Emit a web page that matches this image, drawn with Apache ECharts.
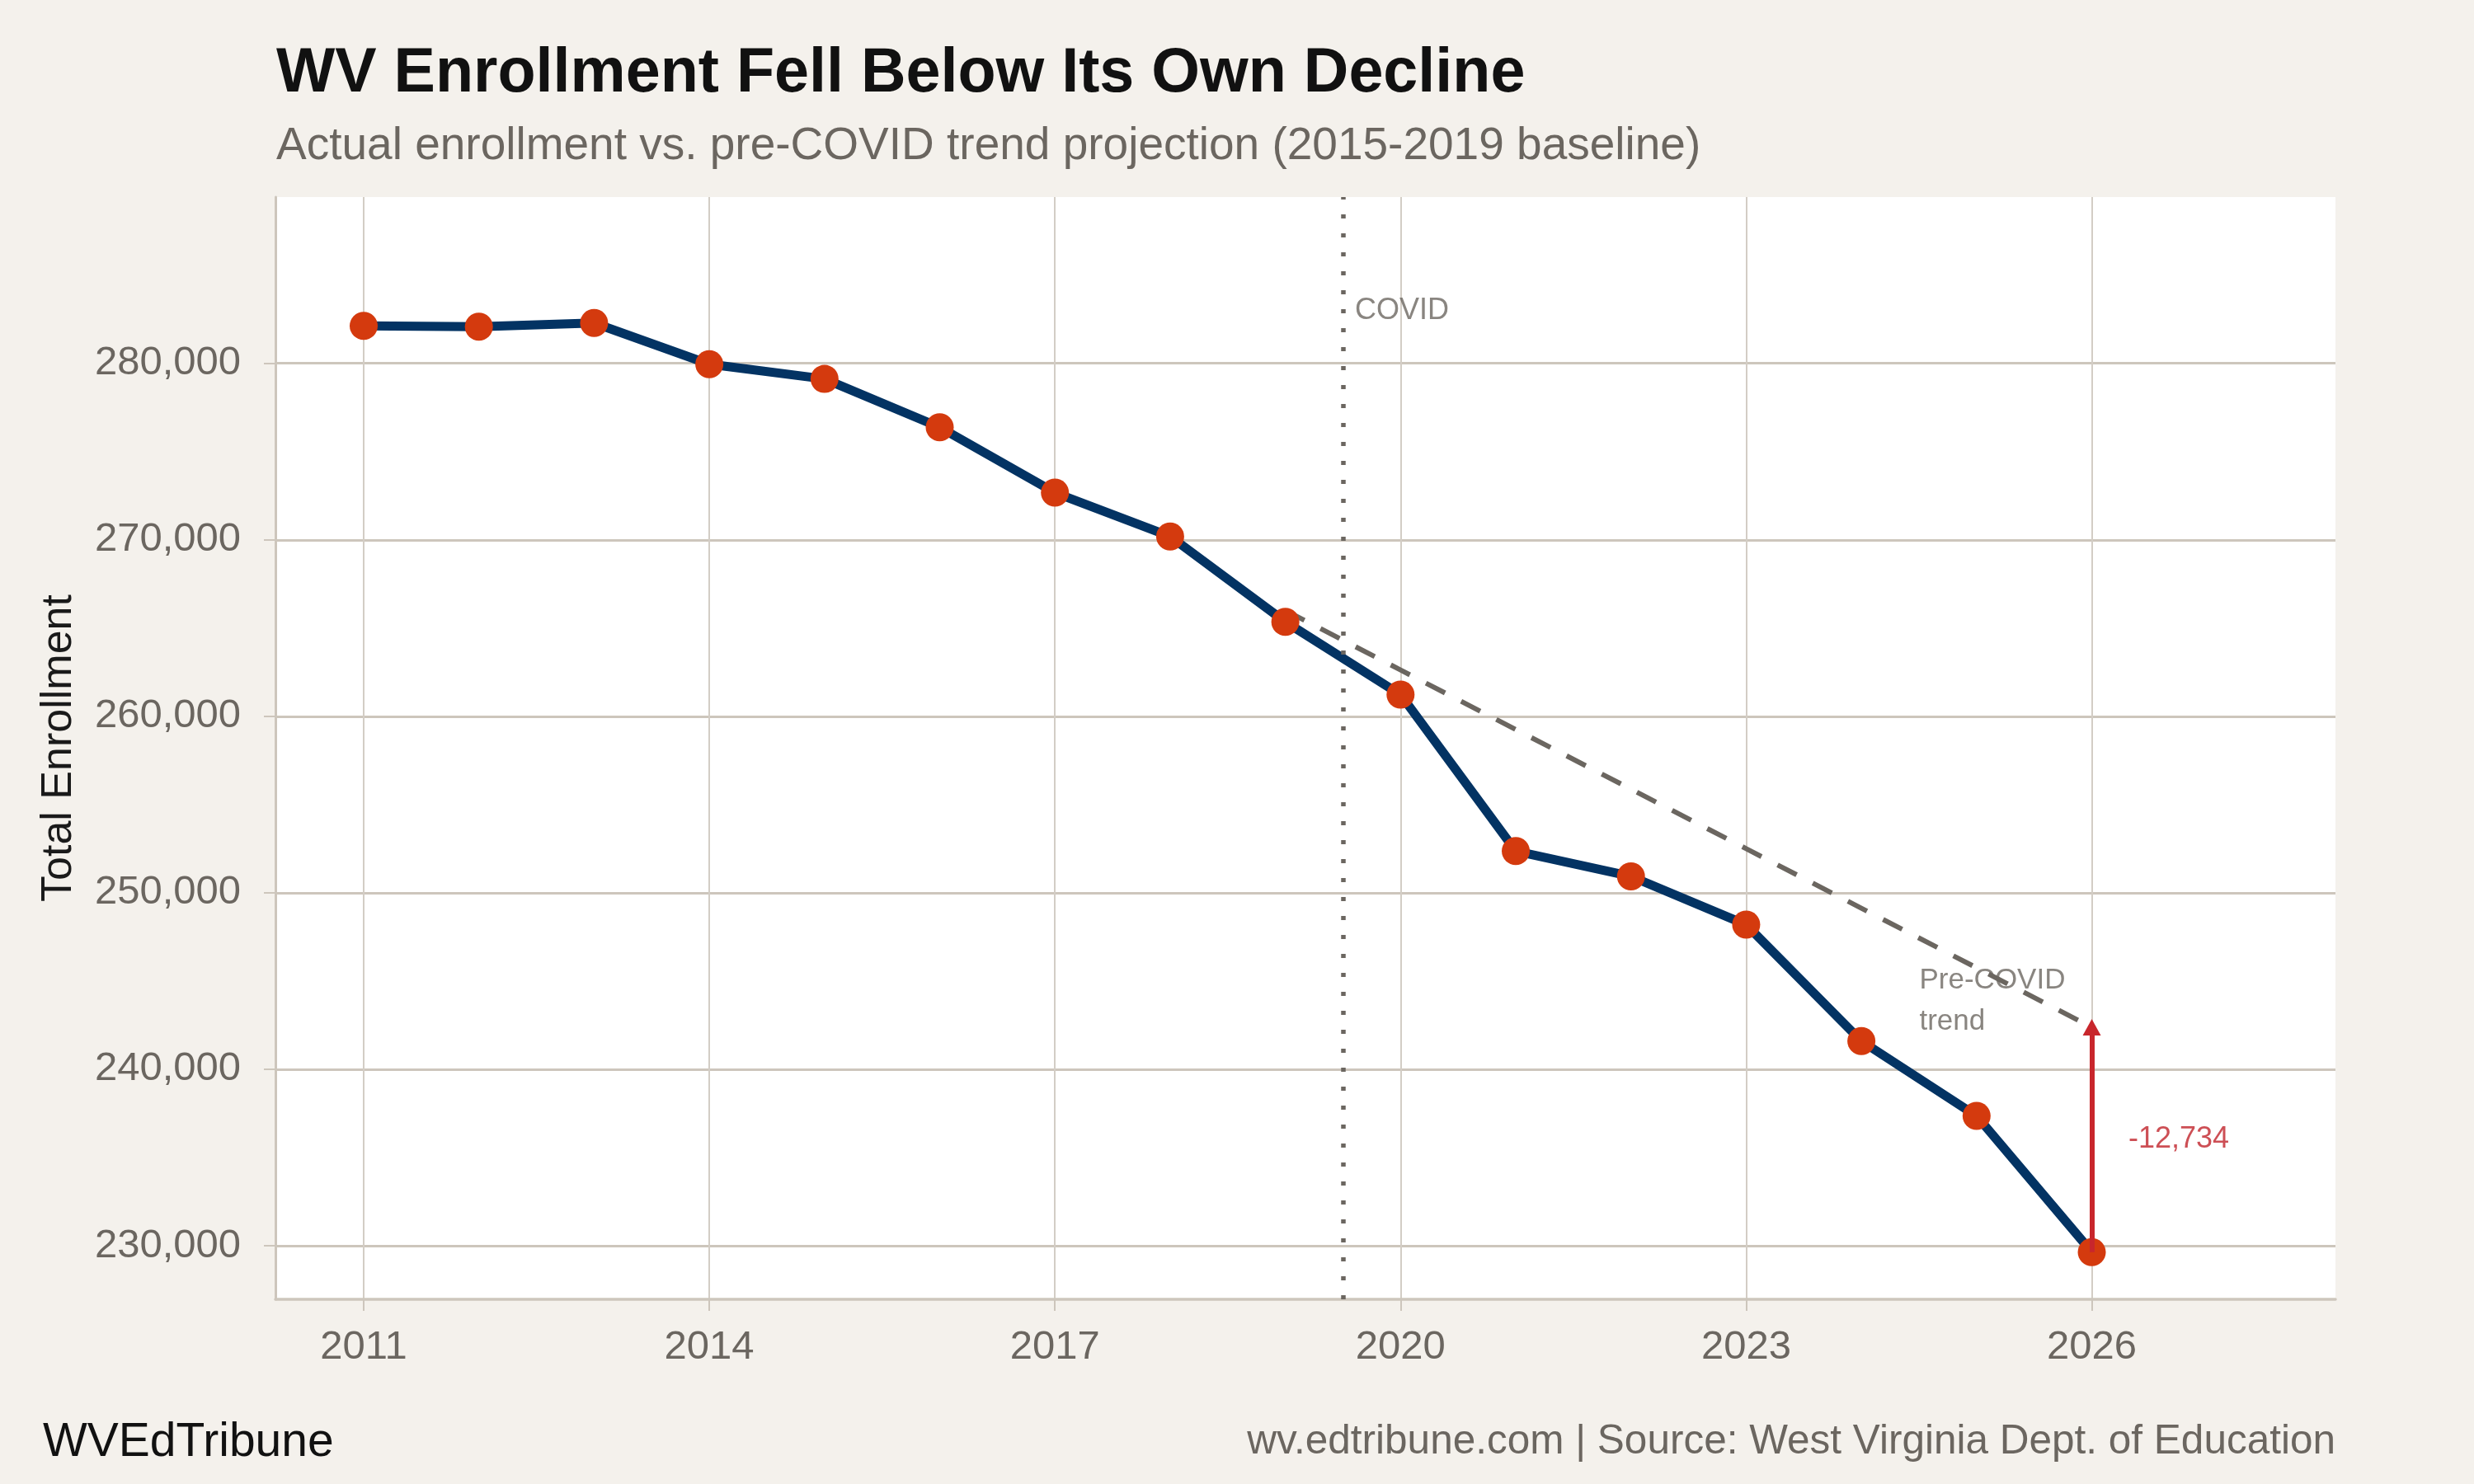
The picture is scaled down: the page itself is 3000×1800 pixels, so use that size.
<!DOCTYPE html>
<html>
<head>
<meta charset="utf-8">
<script src="https://cdn.jsdelivr.net/npm/echarts@6/dist/echarts.min.js"></script>
<style>
html,body{margin:0;padding:0;background:#f4f1ec;}
#chart{width:3000px;height:1800px;}
</style>
</head>
<body>
<div id="chart"></div>
<script>
// ---- data ----
const years = [2011, 2012, 2013, 2014, 2015, 2016, 2017, 2018, 2019, 2020, 2021, 2022, 2023, 2024, 2025, 2026];
const enrollment = [282120, 282074, 282289, 279953, 279117, 276375, 272672, 270191, 265353, 261228, 252364, 250930, 248192, 241597, 237356, 229641];
const trendYears = [2019, 2020, 2021, 2022, 2023, 2024, 2025, 2026];
const trendValues = [266000, 262625, 259250, 255875, 252500, 249125, 245750, 242375];
const xTicks = [2011, 2014, 2017, 2020, 2023, 2026];
const yTicks = [230000, 240000, 250000, 260000, 270000, 280000];
const covidYear = 2019.5;

const titleText = 'WV Enrollment Fell Below Its Own Decline';
const subtitleText = 'Actual enrollment vs. pre-COVID trend projection (2015-2019 baseline)';
const brandText = 'WVEdTribune';
const captionText = 'wv.edtribune.com | Source: West Virginia Dept. of Education';

// ---- derived ----
const actualPairs = years.map((y, i) => [y, enrollment[i]]);
const trendPairs = trendYears.map((y, i) => [y, trendValues[i]]);
const lastYear = years[years.length - 1];
const lastActual = enrollment[enrollment.length - 1];
const lastTrend = trendValues[trendValues.length - 1];
const gap = lastActual - lastTrend;
const gapLabel = (gap < 0 ? '-' : '') + Math.abs(gap).toLocaleString('en-US');

const FONT = 'Liberation Sans, Arial, Helvetica, sans-serif';
const GRID = '#cdc6bc';
const GREY_TEXT = '#6b6660';

const chart = echarts.init(document.getElementById('chart'), null, {renderer: 'canvas'});
chart.setOption({
  animation: false,
  backgroundColor: '#f4f1ec',
  textStyle: {fontFamily: FONT},
  title: [
    {text: titleText, left: 335, top: 52, padding: 0,
     textStyle: {fontFamily: FONT, fontSize: 75.5, fontWeight: 'bold', color: '#111111', lineHeight: 76}},
    {text: subtitleText, left: 335, top: 150, padding: 0,
     textStyle: {fontFamily: FONT, fontSize: 55, fontWeight: 'normal', color: GREY_TEXT, lineHeight: 55}},
    {text: brandText, left: 52, top: 1722, padding: 0,
     textStyle: {fontFamily: FONT, fontSize: 57, fontWeight: 'normal', color: '#111111', lineHeight: 57}},
    {text: captionText, right: 168, top: 1724, padding: 0,
     textStyle: {fontFamily: FONT, fontSize: 49.5, fontWeight: 'normal', color: GREY_TEXT, lineHeight: 50}}
  ],
  grid: {left: 334, right: 168, top: 239, bottom: 224, show: true, backgroundColor: '#ffffff', borderWidth: 0, containLabel: false},
  xAxis: {
    type: 'value', min: 2010.234, max: 2028.115,
    axisLine: {show: true, onZero: false, lineStyle: {color: GRID, width: 3.5}},
    axisTick: {show: true, length: 14, customValues: xTicks, lineStyle: {color: GRID, width: 2}},
    axisLabel: {customValues: xTicks, fontSize: 49, color: GREY_TEXT, margin: 34, fontFamily: FONT,
      formatter: v => String(v)},
    splitLine: {show: true, lineStyle: {color: '#d3cdc5', width: 2}}
  },
  yAxis: {
    type: 'value', min: 226963, max: 289423,
    name: 'Total Enrollment', nameLocation: 'middle', nameGap: 236,
    nameTextStyle: {fontSize: 52, color: '#1a1a1a', fontFamily: FONT},
    axisLine: {show: true, onZero: false, lineStyle: {color: GRID, width: 3}},
    axisTick: {show: true, length: 14, customValues: yTicks, lineStyle: {color: GRID, width: 2}},
    axisLabel: {customValues: yTicks, fontSize: 49, color: GREY_TEXT, margin: 42, fontFamily: FONT,
      formatter: v => Number(v).toLocaleString('en-US')},
    splitLine: {show: true, lineStyle: {color: GRID, width: 3}}
  },
  series: [
    {
      name: 'covid', type: 'line', data: [], silent: true, z: 1,
      markLine: {
        silent: true, symbol: ['none', 'none'], animation: false,
        label: {show: false},
        lineStyle: {color: GREY_TEXT, width: 5.5, type: [5, 18]},
        data: [{xAxis: covidYear}]
      }
    },
    {
      name: 'Pre-COVID trend', type: 'line', data: trendPairs, z: 2, silent: true,
      symbol: 'none',
      lineStyle: {color: GREY_TEXT, width: 6, type: [26, 22]}
    },
    {
      name: 'Actual', type: 'line', data: actualPairs, z: 3, silent: true,
      symbol: 'circle', symbolSize: 34,
      lineStyle: {color: '#033363', width: 11},
      itemStyle: {color: '#d43a0e', borderWidth: 0}
    },
    {
      name: 'gap', type: 'line', data: [], z: 5, silent: true,
      markLine: {
        silent: true, animation: false,
        symbol: ['none', 'triangle'], symbolSize: [22, 20],
        label: {show: false},
        lineStyle: {color: '#c8262c', width: 6, type: 'solid'},
        data: [[{coord: [lastYear, lastActual]}, {coord: [lastYear, lastTrend]}]]
      }
    },
    {
      name: 'labels', type: 'scatter', z: 6, silent: true,
      symbolSize: 1, itemStyle: {color: 'rgba(0,0,0,0)'},
      data: [
        {value: [covidYear, 282976], label: {show: true, position: 'right', distance: 14,
          formatter: 'COVID', fontSize: 36, color: GREY_TEXT, fontFamily: FONT}},
        {value: [2024.5, 243852], label: {show: true, position: 'right', distance: 0,
          formatter: 'Pre-COVID\ntrend', fontSize: 35, lineHeight: 50, color: GREY_TEXT, fontFamily: FONT}},
        {value: [lastYear, (lastActual + lastTrend) / 2], label: {show: true, position: 'right', distance: 44,
          formatter: gapLabel, fontSize: 36, color: '#c0232a', fontFamily: FONT}}
      ]
    }
  ]
});
</script>
</body>
</html>
